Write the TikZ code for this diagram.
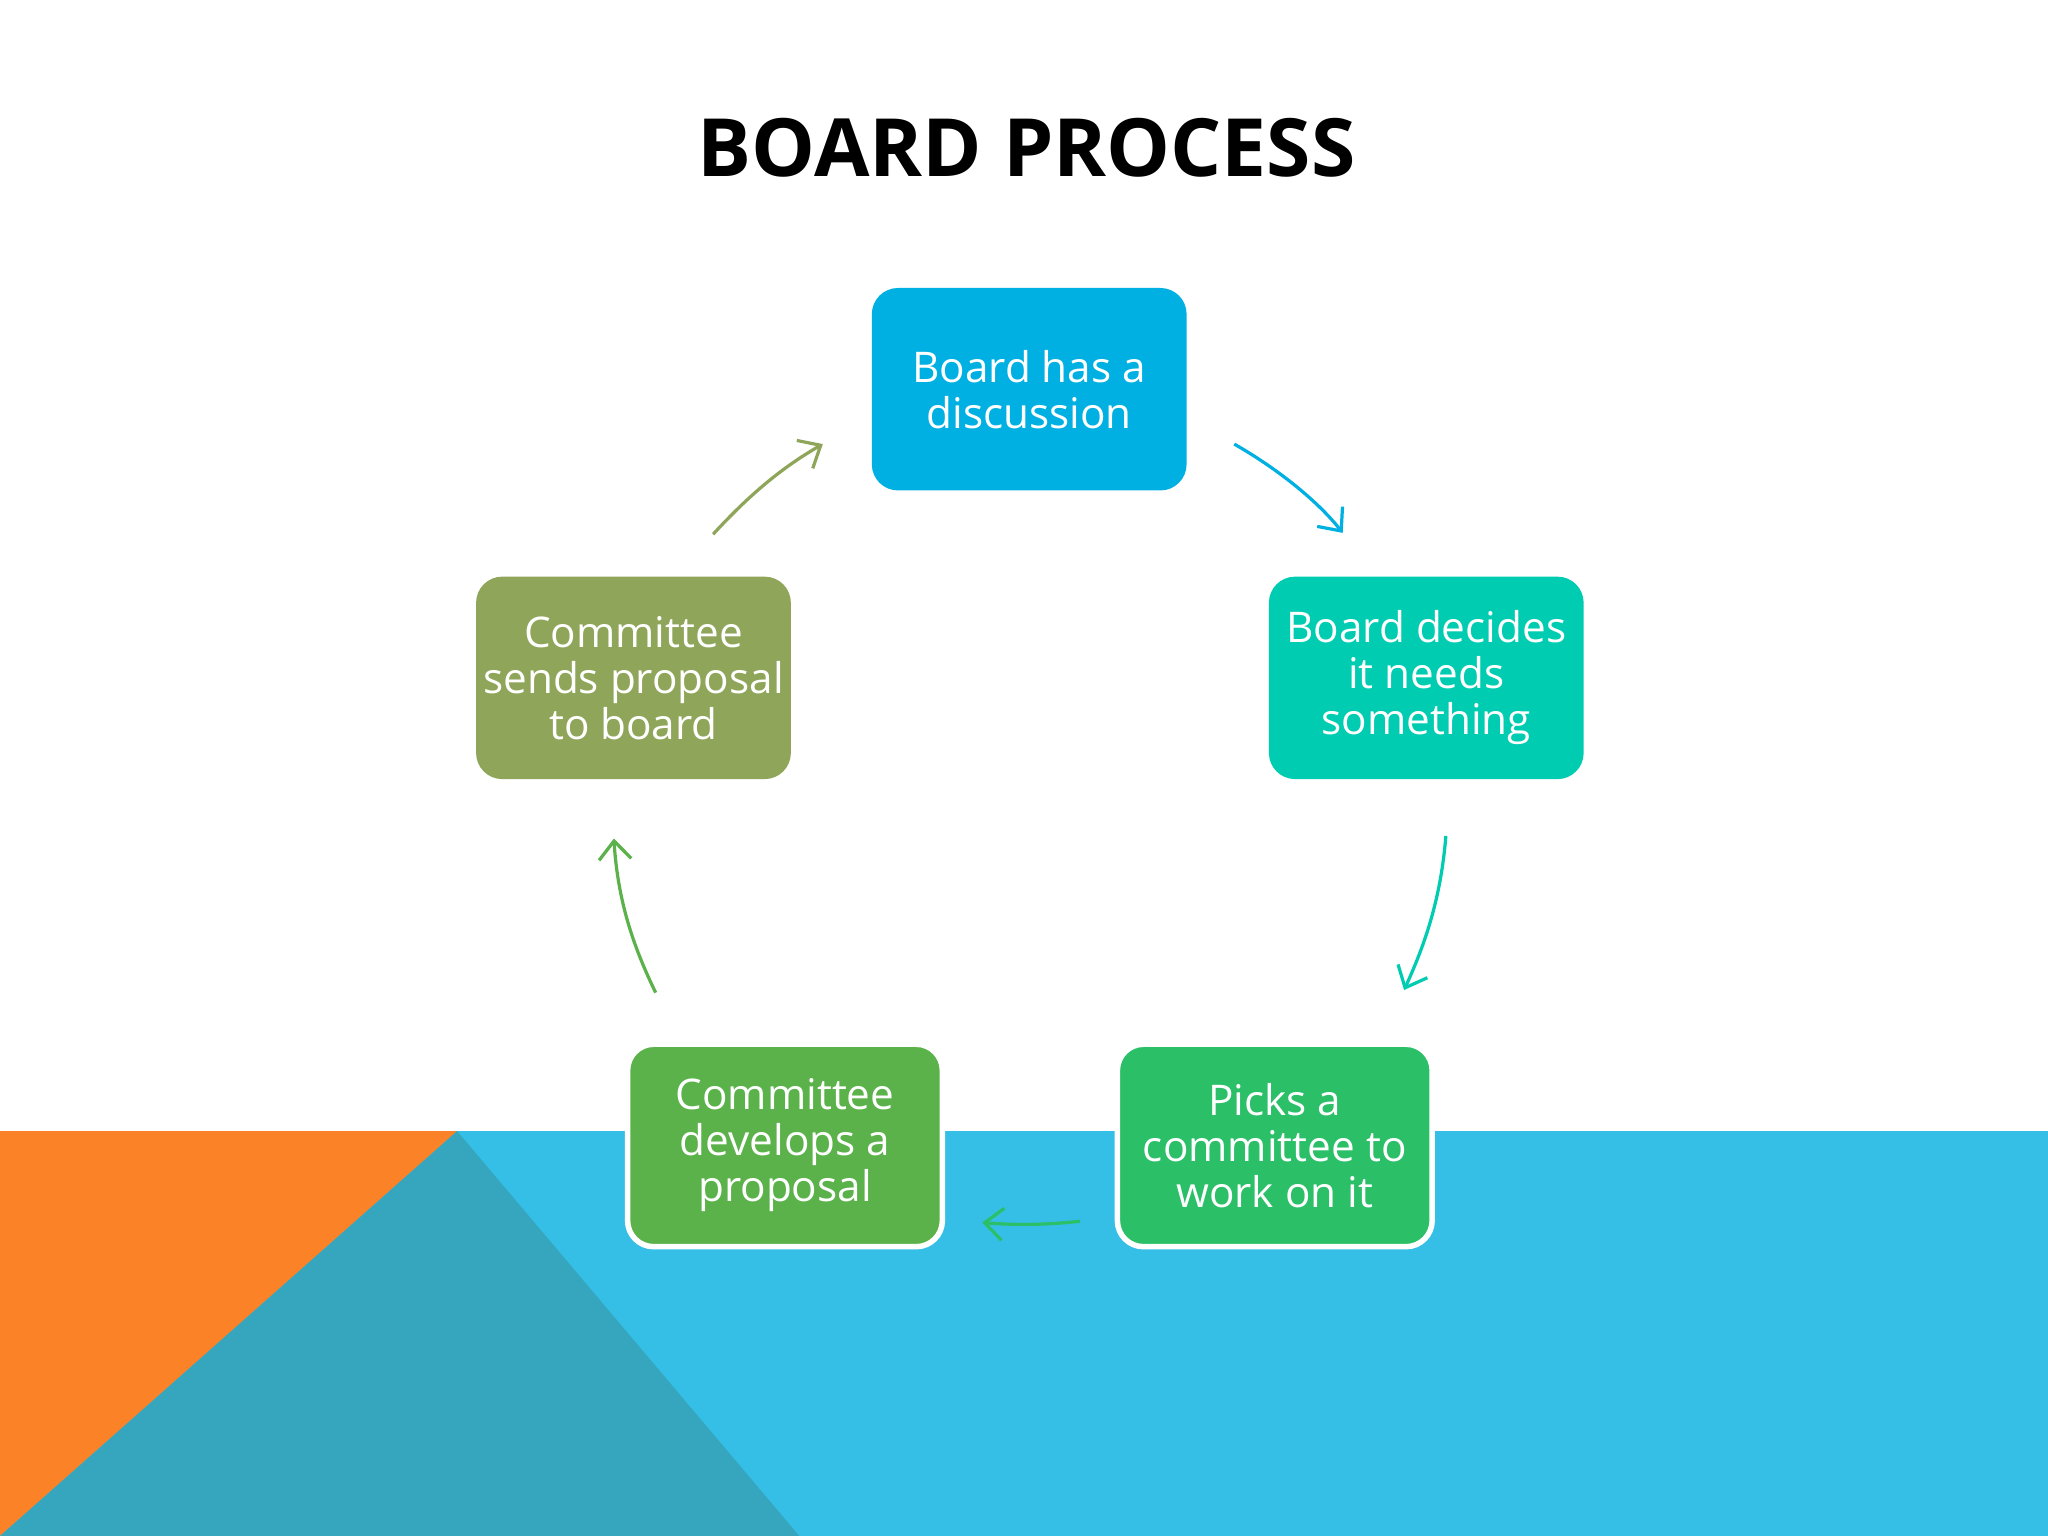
\documentclass[tikz,border=0pt]{standalone}
\usepackage{fontspec}
\setmainfont{Open Sans}
\usetikzlibrary{arrows.meta}
\definecolor{cTop}{HTML}{00B0E2}
\definecolor{cRight}{HTML}{00CCB1}
\definecolor{cBR}{HTML}{2BBF68}
\definecolor{cBL}{HTML}{5BB24A}
\definecolor{cLeft}{HTML}{8FA65A}
\definecolor{band}{HTML}{35BFE6}
\definecolor{orng}{HTML}{FC8227}
\definecolor{teal}{HTML}{36A6BF}
\begin{document}
\begin{tikzpicture}[x=0.01cm,y=-0.01cm,
  box/.style={rounded corners=20*0.01cm, minimum width=241*0.01cm, minimum height=155*0.01cm,
    text=white, align=center, font=\fontsize{9.2}{10}\selectfont, inner sep=0pt},
  arr/.style={line width=0.7pt, -{Straight Barb[length=4pt,width=7pt]}}]
\useasboundingbox (0,0) rectangle (1568,1176);
\fill[white] (0,0) rectangle (1568,1176);
\fill[band] (0,866) rectangle (1568,1176);
\fill[orng] (0,866) -- (350,866) -- (0,1176) -- cycle;
\fill[teal] (350,866) -- (612,1176) -- (0,1176) -- cycle;
\node[font=\bfseries\fontsize{17.5}{20}\selectfont] (title) at (786,113) {BOARD PROCESS};
\node[box, fill=cTop] (a) at (788,298) {Board has a\\discussion};
\node[box, fill=cRight] (b) at (1092,519) {Board decides\\it needs\\something};
\node[box, fill=cBR, draw=white, line width=1.2pt] (c) at (976,877) {Picks a\\committee to\\work on it};
\node[box, fill=cBL, draw=white, line width=1.2pt] (d) at (601,877) {Committee\\develops a\\proposal};
\node[box, fill=cLeft] (e) at (485,519) {Committee\\sends proposal\\to board};
\coordinate (a1) at (945,340); \coordinate (a2) at (1028,408);
\coordinate (b1) at (1107,640); \coordinate (b2) at (1075,758);
\coordinate (c1) at (827,935); \coordinate (c2) at (752,936);
\coordinate (d1) at (502,760); \coordinate (d2) at (470,642);
\coordinate (e1) at (546,409); \coordinate (e2) at (630,340);
\draw[arr, cTop] (a1) .. controls (980,360) and (1010,385) .. (a2);
\draw[arr, cRight] (b1) .. controls (1103,690) and (1090,725) .. (b2);
\draw[arr, cBR] (c1) .. controls (800,938) and (775,938) .. (c2);
\draw[arr, cBL] (d1) .. controls (485,725) and (473,690) .. (d2);
\draw[arr, cLeft] (e1) .. controls (570,383) and (595,360) .. (e2);
\end{tikzpicture}
\end{document}
